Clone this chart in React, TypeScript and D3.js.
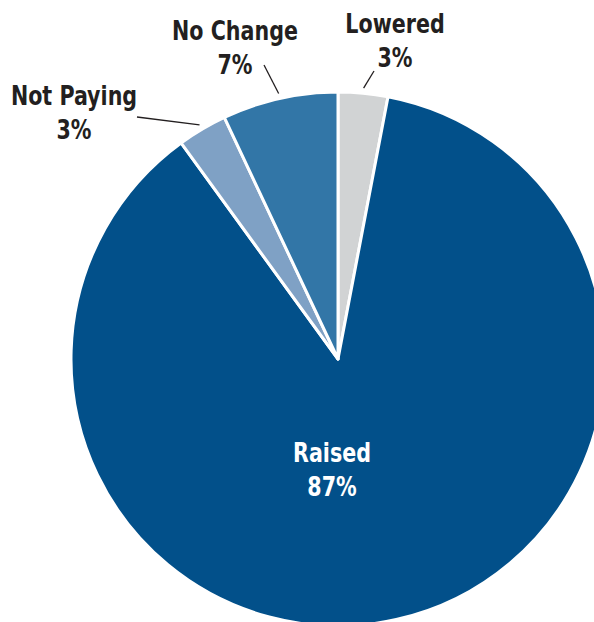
import React, { useEffect, useRef } from 'react';
import * as d3 from 'd3';

const categories = ['Lowered', 'Raised', 'Not Paying', 'No Change'];
const shares = [3, 87, 3, 7];
const shareLabels = ['3%', '87%', '3%', '7%'];
const colors = ['#d1d3d4', '#02508a', '#7fa1c5', '#3276a7'];

// label placement, relative to pie centre (text centre x, first baseline y)
const labelSpots: Record<string, { dx: number; dy: number; lead?: [number, number] }> = {
  'Lowered': { dx: 57, dy: -326, lead: [36, -288] },
  'No Change': { dx: -103, dy: -319, lead: [-74, -294] },
  'Not Paying': { dx: -264, dy: -254, lead: [-201, -242] },
  'Raised': { dx: -6, dy: 103 },
};

const App = () => {
  const ref = useRef<SVGSVGElement>(null);

  useEffect(() => {
    document.body.style.margin = '0';
    const width = 594;
    const height = 622;
    const cx = 338;
    const cy = 359;
    const r = 267;

    const data = categories.map((c, i) => ({ name: c, value: shares[i], label: shareLabels[i], color: colors[i] }));

    const svg = d3.select(ref.current);
    svg.selectAll('*').remove();
    svg.attr('width', width).attr('height', height);

    const g = svg.append('g').attr('transform', `translate(${cx},${cy})`);

    const pie = d3.pie<any>().sort(null).value(d => d.value);
    const arc = d3.arc<any>().innerRadius(0).outerRadius(r);
    const arcs = pie(data);

    g.selectAll('path.slice')
      .data(arcs)
      .enter().append('path')
      .attr('class', 'slice')
      .attr('d', arc)
      .attr('fill', d => d.data.color)
      .attr('stroke', '#fff')
      .attr('stroke-width', 3)
      .attr('stroke-linejoin', 'round');

    // condensed face, squeezed a bit more to get the narrow gothic look
    const font = '"DejaVu Sans Condensed", sans-serif';

    arcs.forEach(a => {
      const spot = labelSpots[a.data.name];
      if (!spot) return;
      const inside = a.data.name === 'Raised';
      if (spot.lead) {
        const mid = (a.startAngle + a.endAngle) / 2;
        const rr = r + 5;
        g.append('line')
          .attr('x1', spot.lead[0])
          .attr('y1', spot.lead[1])
          .attr('x2', Math.sin(mid) * rr)
          .attr('y2', -Math.cos(mid) * rr)
          .attr('stroke', '#231f20')
          .attr('stroke-width', 1.3);
      }
      const t = g.append('text')
        .attr('transform', `translate(${spot.dx},${spot.dy}) scale(0.85,1)`)
        .attr('text-anchor', 'middle')
        .style('font-family', font)
        .style('font-weight', 'bold')
        .style('font-size', '27px')
        .style('fill', inside ? '#ffffff' : '#231f20');
      t.append('tspan').attr('x', 0).attr('y', 0).text(a.data.name);
      t.append('tspan').attr('x', 0).attr('y', 34).text(a.data.label);
    });
  }, []);

  return <svg ref={ref} style={{ display: 'block' }}></svg>;
};

export default App;
